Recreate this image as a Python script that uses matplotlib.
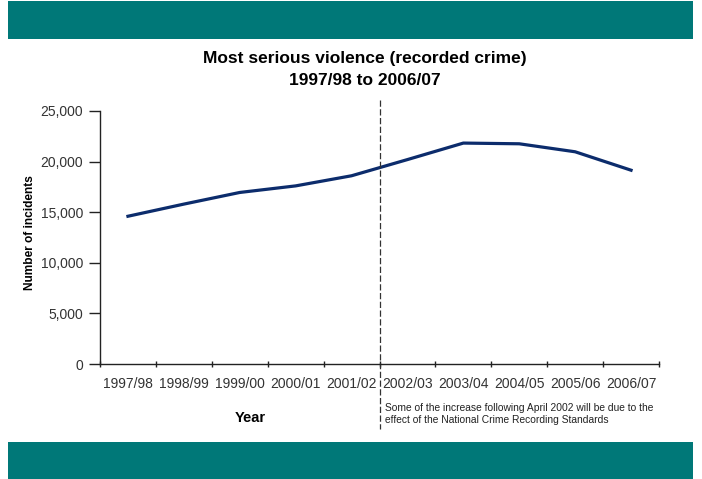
import matplotlib
matplotlib.use("Agg")
import matplotlib.pyplot as plt
import numpy as np
from matplotlib.patches import Rectangle
from matplotlib.transforms import blended_transform_factory

years = ["1997/98", "1998/99", "1999/00", "2000/01", "2001/02",
         "2002/03", "2003/04", "2004/05", "2005/06", "2006/07"]
incidents = [14600, 15800, 16950, 17600, 18600, 20200, 21830, 21760, 20970, 19150]
yticks = [0, 5000, 10000, 15000, 20000, 25000]
title = "Most serious violence (recorded crime)\n1997/98 to 2006/07"
note = "Some of the increase following April 2002 will be due to the\neffect of the National Crime Recording Standards"

plt.rcParams['font.family'] = ['Liberation Sans', 'DejaVu Sans']

W, H = 702, 479
fig = plt.figure(figsize=(W / 100, H / 100), dpi=100)
teal = "#007878"
# bands
fig.patches.append(Rectangle((8 / W, 1 - 39 / H), 685 / W, 38 / H, transform=fig.transFigure,
                             facecolor=teal, edgecolor="none"))
fig.patches.append(Rectangle((8 / W, 1 - 479 / H), 685 / W, 37 / H, transform=fig.transFigure,
                             facecolor=teal, edgecolor="none"))

ax = fig.add_axes([100 / W, (H - 364) / H, 559 / W, 253 / H])
x = np.arange(len(years))
ax.plot(x, incidents, color="#0C2C6C", lw=2.3, solid_joinstyle="round")
ax.set_xlim(-0.5, len(years) - 0.5)
ax.set_ylim(0, 25000)
ax.set_yticks(yticks)
ax.set_yticklabels([f"{v:,}" for v in yticks], fontsize=10, color="#333333")
ax.set_xticks(x)
ax.set_xticklabels(years, fontsize=10, color="#333333")
ax.set_xticks(np.arange(-0.5, len(years)), minor=True)
ax.tick_params(axis="x", which="major", length=0, pad=9)
ax.tick_params(axis="x", which="minor", length=5, width=1, color="#222222", direction="inout")
ax.tick_params(axis="y", length=8, width=1, color="#222222", pad=4)
for s in ["top", "right"]:
    ax.spines[s].set_visible(False)
for s in ["left", "bottom"]:
    ax.spines[s].set_color("#222222")
    ax.spines[s].set_linewidth(1)

tr = blended_transform_factory(ax.transData, ax.transAxes)
ax.plot([4.5, 4.5], [1.045, -0.255], transform=tr, clip_on=False,
        color="#333333", lw=0.9, ls=(0, (5, 2)))

ax.set_ylabel("Number of incidents", fontsize=8.6, fontweight="bold")
ax.yaxis.set_label_coords(-64 / 559, 0.52)
fig.text(250 / W, 1 - 418 / H, "Year", ha="center", va="center", fontsize=10.5, fontweight="bold")
fig.text(365 / W, 1 - 69.5 / H, title, ha="center", va="center", fontsize=12.5,
         fontweight="bold", linespacing=1.6)
fig.text(385 / W, 1 - 414 / H, note, ha="left", va="center", fontsize=7.4, color="#222222",
         linespacing=1.3)

fig.savefig("out.png", dpi=100)
